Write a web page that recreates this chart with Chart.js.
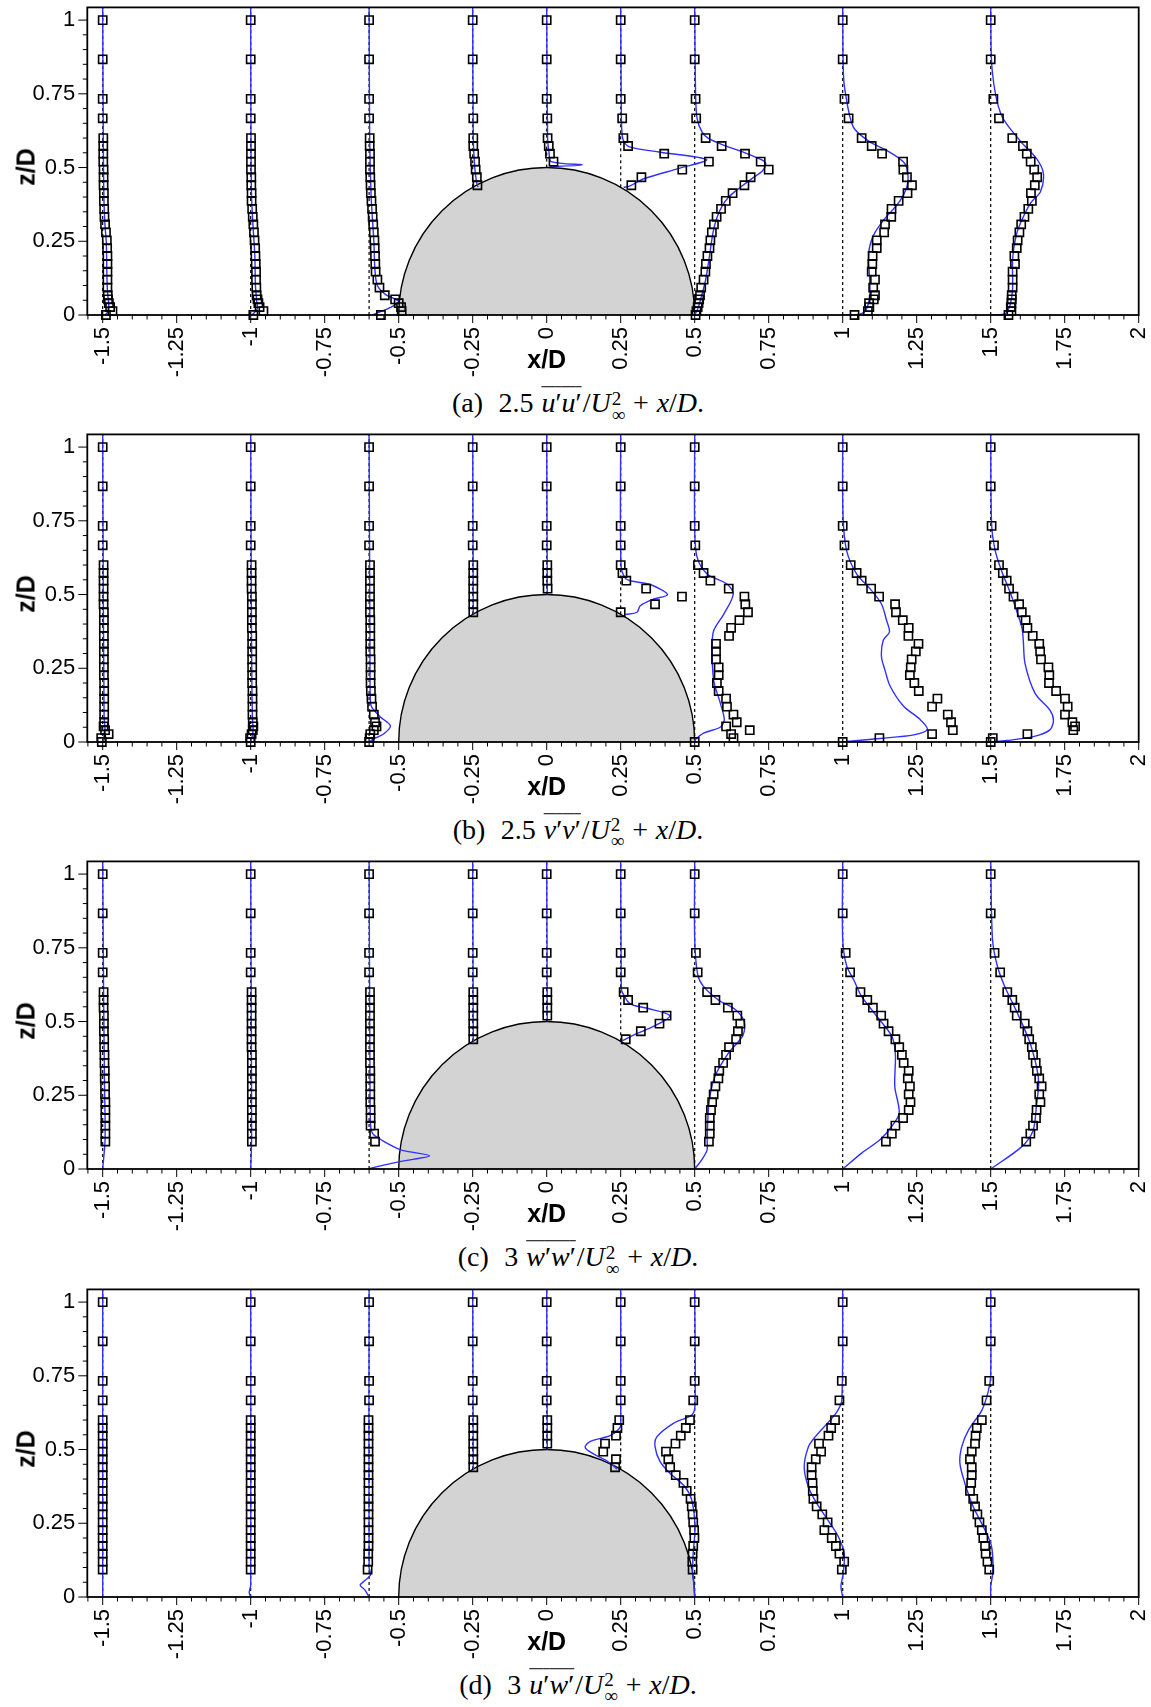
<!DOCTYPE html>
<html>
<head>
<meta charset="utf-8">
<script src="https://cdn.jsdelivr.net/npm/chart.js@4.4.1/dist/chart.umd.min.js"></script>
<style>
body { margin: 0; background: #fff; }
#page { position: relative; width: 1151px; height: 1707px; overflow: hidden; background: #fff; }
.panel { position: absolute; left: 0; width: 1151px; height: 380px; }
.panel canvas { position: absolute; left: 0; top: 0; }
.ztitle { position: absolute; left: 26px; top: 167px; font: bold 25px "Liberation Sans", Arial, sans-serif;
  transform: translate(-50%, -50%) rotate(-90deg); white-space: nowrap; }
.xtitle { position: absolute; left: 546.7px; top: 359px; font: bold 25px "Liberation Sans", Arial, sans-serif;
  transform: translate(-50%, -50%); white-space: nowrap; }
.caption { position: absolute; left: 0; width: 1156px; top: 405px; text-align: center;
  font: 28px "Liberation Serif", "DejaVu Serif", serif; transform: translateY(-50%); white-space: nowrap; }
.ol { text-decoration: overline; text-decoration-thickness: 1.3px; padding: 0 1px; }
.ss { display: inline-block; vertical-align: -0.45em; font-size: 19px; line-height: 16px; text-align: left; margin-left: 1px; }
.ss span { display: block; }
.op { margin: 0 0.28em; }
.lab { margin-right: 0.55em; }
</style>
</head>
<body>
<div id="page"></div>
<script>
// measurement stations (x/D) and hill surface height under each one
const stations = [-1.5, -1, -0.6, -0.25, 0, 0.25, 0.5, 1, 1.5];
const stationFloor = [0, 0, 0, 0.433, 0.5, 0.433, 0, 0, 0];
const hillRadius = 0.5;

// heights of the measured points (z/D), top to bottom
const zExp = [1, 0.867, 0.733, 0.667, 0.6, 0.573, 0.547, 0.52, 0.493, 0.467, 0.44, 0.413, 0.387, 0.36,
  0.333, 0.307, 0.28, 0.253, 0.227, 0.2, 0.173, 0.147, 0.12, 0.093, 0.067, 0.053, 0.04, 0.027, 0.013, 0];

const xTickVals = [-1.5, -1.25, -1, -0.75, -0.5, -0.25, 0, 0.25, 0.5, 0.75, 1, 1.25, 1.5, 1.75, 2];
const yTickVals = [0, 0.25, 0.5, 0.75, 1];
const xMin = -1.552, xMax = 2, yMax = 1.043;

// (a) 2.5 u'u' : measured offsets from each station, following zExp
const uuExp = [
  [0,0,0,0,0.002,0.002,0.002,0.002,0.003,0.003,0.003,0.004,0.004,0.005,0.006,0.008,0.011,0.014,0.015,0.016,0.016,0.016,0.016,0.016,0.017,0.018,0.021,0.025,0.033,0.011],
  [0,0,0,0,0.001,0.001,0.001,0.001,0.001,0.002,0.002,0.003,0.003,0.005,0.007,0.009,0.011,0.013,0.015,0.016,0.017,0.018,0.018,0.019,0.02,0.023,0.026,0.03,0.043,0.009],
  [0,0,0,0,0.002,0.002,0.003,0.003,0.003,0.004,0.005,0.006,0.008,0.01,0.012,0.014,0.016,0.018,0.019,0.02,0.021,0.022,0.028,0.035,0.053,0.088,0.1,0.108,0.11,0.04],
  [0,0,0,0.002,0.002,0.002,0.005,0.008,0.01,0.014,0.016],
  [0,0,0,0.002,0.003,0.007,0.011,0.023],
  [0,0,0,0.005,0.009,0.025,0.147,0.298,0.208,0.07,0.036],
  [0,0,0.003,0.005,0.037,0.091,0.17,0.223,0.25,0.189,0.168,0.128,0.105,0.089,0.074,0.065,0.058,0.053,0.05,0.043,0.038,0.036,0.03,0.022,0.018,0.015,0.013,0.01,0.006,0.003],
  [0,0,0.006,0.02,0.064,0.098,0.133,0.204,0.205,0.217,0.234,0.219,0.189,0.165,0.164,0.143,0.14,0.115,0.115,0.101,0.1,0.098,0.109,0.103,0.109,0.105,0.089,0.09,0.085,0.04],
  [0,0,0.009,0.028,0.073,0.109,0.122,0.135,0.147,0.157,0.149,0.136,0.139,0.127,0.114,0.103,0.097,0.091,0.088,0.08,0.082,0.074,0.074,0.074,0.071,0.071,0.07,0.068,0.07,0.06]
];
// LES profiles as [z, offset] pairs
const uuLes = [
  [[1.043,0],[0.6,0.002],[0.4,0.004],[0.3,0.008],[0.25,0.012],[0.15,0.014],[0.08,0.016],[0.04,0.02],[0.015,0.02],[0,0.008]],
  [[1.043,0],[0.6,0.001],[0.4,0.003],[0.3,0.008],[0.2,0.014],[0.1,0.016],[0.05,0.02],[0.02,0.022],[0,0.004]],
  [[1.043,0],[0.6,0.002],[0.4,0.007],[0.25,0.016],[0.15,0.02],[0.1,0.028],[0.07,0.055],[0.045,0.1],[0.025,0.07],[0.01,0.035],[0,0.01]],
  [[1.043,0],[0.6,0.002],[0.5,0.007],[0.45,0.013],[0.434,0.018]],
  [[1.043,0],[0.6,0.003],[0.55,0.008],[0.52,0.015],[0.509,0.12],[0.503,0.01]],
  [[1.043,0],[0.7,0.002],[0.62,0.004],[0.59,0.01],[0.57,0.03],[0.552,0.134],[0.527,0.29],[0.498,0.2],[0.462,0.078],[0.437,0.03],[0.433,0.01]],
  [[1.043,0],[0.75,0.003],[0.667,0.008],[0.62,0.025],[0.6,0.045],[0.575,0.1],[0.55,0.17],[0.527,0.225],[0.515,0.24],[0.49,0.23],[0.46,0.19],[0.43,0.15],[0.4,0.115],[0.37,0.093],[0.33,0.075],[0.28,0.062],[0.2,0.05],[0.12,0.037],[0.06,0.022],[0.02,0.01],[0,0]],
  [[1.043,0],[0.83,0.002],[0.76,0.008],[0.637,0.036],[0.587,0.092],[0.558,0.149],[0.513,0.21],[0.45,0.22],[0.388,0.194],[0.32,0.137],[0.27,0.104],[0.21,0.088],[0.075,0.092],[0.02,0.08],[0.003,0.058],[0,0]],
  [[1.043,0],[0.83,0.005],[0.68,0.035],[0.59,0.1],[0.53,0.155],[0.48,0.178],[0.418,0.168],[0.38,0.135],[0.31,0.1],[0.265,0.085],[0.19,0.074],[0.09,0.074],[0.035,0.066],[0.005,0.05],[0,0]]
];

// (b) 2.5 v'v'
const vvExp = [
  [0,0,0,0,0.003,0.003,0.003,0.003,0.003,0.003,0.004,0.004,0.004,0.004,0.004,0.004,0.004,0.004,0.004,0.005,0.005,0.005,0.005,0.005,0.005,0.003,0.008,0.02,-0.005,-0.003],
  [0,0,0,0,0.003,0.003,0.003,0.003,0.004,0.004,0.004,0.004,0.004,0.005,0.005,0.005,0.005,0.005,0.005,0.005,0.006,0.006,0.006,0.006,0.007,0.009,0.007,0.003,-0.002,0],
  [0,0,0,0,0.003,0.003,0.003,0.003,0.003,0.003,0.003,0.004,0.004,0.004,0.004,0.004,0.005,0.005,0.005,0.005,0.006,0.008,0.01,0.016,0.02,0.025,0.016,0.004,0.002,0],
  [0,0,0,0,0.002,0.002,0.002,0.002,0.002,0.002,0.002],
  [0,0,0,0,0.002,0.002,0.002,0.003],
  [0,0,0,0,0,0.006,0.019,0.086,0.207,0.116,0],
  [0,0,0,0.002,0.011,0.03,0.053,0.115,0.168,0.171,0.18,0.151,0.123,0.116,0.072,0.072,0.072,0.081,0.081,0.075,0.081,0.106,0.109,0.131,0.142,0.106,0.186,0.123,0.131,0],
  [0,0,0,0.006,0.027,0.047,0.064,0.096,0.123,0.177,0.18,0.203,0.223,0.222,0.256,0.247,0.233,0.23,0.227,0.242,0.257,0.32,0.302,0.355,0.366,null,0.372,0.302,0.124,0],
  [0,0,0.003,0.011,0.028,0.041,0.054,0.062,0.077,0.096,0.105,0.118,0.124,0.142,0.164,0.167,0.17,0.195,0.198,0.197,0.221,0.251,0.26,0.251,0.276,0.285,0.279,0.124,0.007,0]
];
const vvLes = [
  [[1.043,0],[0.5,0.002],[0.2,0.004],[0.08,0.005],[0.04,0.008],[0.015,0.005],[0,0]],
  [[1.043,0],[0.5,0.002],[0.2,0.004],[0.08,0.006],[0.04,0.008],[0.015,0.004],[0,0]],
  [[1.043,0],[0.3,0.003],[0.15,0.004],[0.12,0.008],[0.085,0.038],[0.055,0.072],[0.028,0.05],[0.013,0.02],[0,0]],
  [[1.043,0],[0.434,0.002]],
  [[1.043,0],[0.5,0.002]],
  [[1.043,0],[0.6,0.001],[0.555,0.016],[0.545,0.04],[0.534,0.1],[0.5,0.158],[0.484,0.11],[0.462,0.066],[0.44,0.055],[0.432,0.016]],
  [[1.043,0],[0.72,0],[0.627,0.008],[0.57,0.042],[0.535,0.11],[0.5,0.13],[0.433,0.098],[0.377,0.064],[0.32,0.059],[0.21,0.064],[0.13,0.087],[0.075,0.1],[0.05,0.086],[0.03,0.03],[0.006,0],[0,0]],
  [[1.043,0],[0.77,0.001],[0.65,0.013],[0.57,0.047],[0.52,0.092],[0.468,0.131],[0.413,0.148],[0.373,0.158],[0.345,0.137],[0.289,0.131],[0.243,0.143],[0.19,0.16],[0.122,0.205],[0.077,0.261],[0.043,0.286],[0.024,0.24],[0.012,0.126],[0.002,0.014],[0,0]],
  [[1.043,0],[0.74,0.003],[0.65,0.015],[0.58,0.037],[0.493,0.071],[0.39,0.105],[0.345,0.11],[0.266,0.116],[0.165,0.15],[0.108,0.2],[0.075,0.212],[0.041,0.2],[0.018,0.144],[0.005,0.054],[0,0]]
];

// (c) 3 w'w'
const wwExp = [
  [0,0,0,0,0.003,0.003,0.003,0.004,0.004,0.004,0.005,0.005,0.006,0.006,0.007,0.007,0.008,0.008,0.009,0.009,0.009,0.009,0.009,0.009],
  [0,0,0,0,0.003,0.003,0.003,0.003,0.003,0.003,0.003,0.003,0.004,0.004,0.004,0.004,0.004,0.004,0.004,0.004,0.004,0.004,0.004,0.004],
  [0,0,0,0,0.003,0.003,0.003,0.003,0.003,0.003,0.003,0.003,0.003,0.003,0.004,0.004,0.004,0.004,0.004,0.005,0.005,0.005,0.017,0.02],
  [0,0,0,0,0.002,0.002,0.002,0.002,0.002,0.002,0.002],
  [0,0,0,0,0.002,0.002,0.002,0.002],
  [0,0,0,0,0.01,0.025,0.076,0.155,0.131,0.068,0.017],
  [0,0,0.004,0.01,0.042,0.07,0.112,0.144,0.154,0.146,0.14,0.116,0.106,0.096,0.083,0.08,0.07,0.064,0.059,0.055,0.051,0.051,0.051,0.048],
  [0,0,0.01,0.025,0.06,0.083,0.102,0.13,0.138,0.155,0.178,0.191,0.2,0.206,0.223,0.22,0.227,0.223,0.229,0.223,0.204,0.178,0.166,0.146],
  [0,0,0.013,0.032,0.056,0.073,0.081,0.088,0.115,0.124,0.13,0.139,0.143,0.152,0.156,0.164,0.172,0.164,0.168,0.155,0.153,0.143,0.134,0.12]
];
const wwLes = [
  [[1.043,0],[0.6,0.003],[0.3,0.006],[0.1,0.008],[0,0]],
  [[1.043,0],[0.5,0.002],[0.1,0.003],[0,0]],
  [[1.043,0],[0.3,0.003],[0.15,0.005],[0.12,0.012],[0.1,0.039],[0.065,0.107],[0.045,0.204],[0.026,0.107],[0.003,0.006],[0,0]],
  [[1.043,0],[0.434,0.002]],
  [[1.043,0],[0.5,0.002]],
  [[1.043,0],[0.62,0.002],[0.6,0.005],[0.56,0.032],[0.545,0.09],[0.52,0.166],[0.485,0.114],[0.457,0.05],[0.435,0.006]],
  [[1.043,0],[0.78,0],[0.66,0.01],[0.62,0.029],[0.573,0.08],[0.54,0.138],[0.5,0.167],[0.453,0.163],[0.39,0.112],[0.31,0.067],[0.222,0.048],[0.098,0.042],[0.065,0.042],[0.03,0.023],[0,0]],
  [[1.043,0],[0.78,0],[0.69,0.013],[0.64,0.038],[0.585,0.064],[0.518,0.115],[0.45,0.166],[0.39,0.178],[0.28,0.176],[0.19,0.191],[0.145,0.166],[0.1,0.127],[0.054,0.064],[0,0]],
  [[1.043,0],[0.78,0.006],[0.69,0.022],[0.62,0.047],[0.54,0.085],[0.436,0.13],[0.346,0.155],[0.29,0.162],[0.22,0.155],[0.13,0.143],[0.075,0.104],[0,0]]
];

// (d) 3 u'w'
const uwExp = [
  [0,0,0,0,0,0,0,0,0,0,0,0,0,0,0,0,0,0,0,0,0,0,0,0],
  [0,0,0,0,0,0,0,0,0,0,0,0,0,0,0,0,0,0,0,0,0,0,0,0],
  [0,0,0,0,-0.002,-0.002,-0.002,-0.002,-0.002,-0.002,-0.002,-0.002,-0.002,-0.002,-0.002,-0.002,-0.002,-0.002,-0.002,-0.002,-0.002,-0.003,-0.003,-0.005],
  [0,0,0,0,0.002,0.002,0.002,0.002,0.002,0.002,0.002],
  [0,0,0,0,0.002,0.002,0.002,0.002],
  [0,0,0,0,-0.005,-0.011,-0.016,-0.053,-0.059,-0.016,-0.019],
  [0,0,0,-0.005,-0.016,-0.03,-0.047,-0.065,-0.097,-0.089,-0.083,-0.064,-0.038,-0.027,-0.014,-0.01,-0.007,-0.005,-0.002,-0.001,-0.005,-0.007,-0.008,-0.007],
  [0,0,-0.003,-0.011,-0.026,-0.039,-0.048,-0.08,-0.073,-0.091,-0.105,-0.105,-0.102,-0.101,-0.099,-0.088,-0.069,-0.051,-0.062,-0.037,-0.023,-0.011,0.005,-0.003],
  [0,0,-0.005,-0.014,-0.03,-0.047,-0.051,-0.053,-0.064,-0.07,-0.064,-0.064,-0.066,-0.07,-0.059,-0.053,-0.045,-0.038,-0.03,-0.025,-0.019,-0.017,-0.011,-0.005]
];
const uwLes = [
  [[1.043,0],[0,0]],
  [[1.043,0],[0.04,0],[0.015,-0.005],[0,0]],
  [[1.043,0],[0.1,0],[0.075,0.005],[0.055,-0.015],[0.04,-0.03],[0.025,-0.015],[0,0]],
  [[1.043,0],[0.434,0.002]],
  [[1.043,0],[0.5,0.002]],
  [[1.043,0],[0.6,0],[0.575,-0.002],[0.547,-0.036],[0.527,-0.104],[0.507,-0.12],[0.485,-0.092],[0.462,-0.047],[0.44,-0.019],[0.433,-0.013]],
  [[1.043,0],[0.65,0.001],[0.617,-0.01],[0.589,-0.072],[0.543,-0.128],[0.51,-0.134],[0.459,-0.117],[0.419,-0.083],[0.374,-0.033],[0.329,-0.01],[0.239,0.001],[0.149,-0.005],[0.081,-0.007],[0.036,-0.002],[0,0]],
  [[1.043,0],[0.667,-0.003],[0.627,-0.02],[0.587,-0.054],[0.543,-0.093],[0.509,-0.116],[0.441,-0.13],[0.374,-0.116],[0.318,-0.088],[0.25,-0.043],[0.205,-0.015],[0.149,0.005],[0.081,0.002],[0.036,-0.006],[0,0]],
  [[1.043,0],[0.75,0],[0.698,-0.008],[0.633,-0.03],[0.566,-0.075],[0.509,-0.098],[0.453,-0.104],[0.385,-0.087],[0.306,-0.059],[0.239,-0.025],[0.182,0],[0.137,0.007],[0.081,0.007],[0.036,0],[0,0]]
];

const tail = '/<i>U</i><span class="ss"><span>2</span><span>∞</span></span><span class="op">+</span><i>x</i>/<i>D</i>.';
const panels = [
  { top: 0, exp: uuExp, les: uuLes, caption: '<span class="lab">(a)</span>2.5 <span class="ol"><i>u</i>′<i>u</i>′</span>' + tail },
  { top: 426.7, exp: vvExp, les: vvLes, caption: '<span class="lab">(b)</span>2.5 <span class="ol"><i>v</i>′<i>v</i>′</span>' + tail },
  { top: 854.3, exp: wwExp, les: wwLes, caption: '<span class="lab">(c)</span>3 <span class="ol"><i>w</i>′<i>w</i>′</span>' + tail },
  { top: 1281.8, exp: uwExp, les: uwLes, caption: '<span class="lab">(d)</span>3 <span class="ol"><i>u</i>′<i>w</i>′</span>' + tail }
];

// hill, frame and tick marks drawn with the chart's own scales
const framePlugin = {
  id: 'frame',
  beforeDatasetsDraw(chart) {
    const { ctx, chartArea: a, scales: { x, y } } = chart;
    const cx = x.getPixelForValue(0), cy = y.getPixelForValue(0);
    const rx = x.getPixelForValue(hillRadius) - cx;
    const ry = cy - y.getPixelForValue(hillRadius);
    ctx.save();
    ctx.beginPath();
    ctx.rect(a.left, a.top, a.width, a.height);
    ctx.clip();
    ctx.beginPath();
    ctx.ellipse(cx, cy, rx, ry, 0, Math.PI, 2 * Math.PI);
    ctx.closePath();
    ctx.fillStyle = '#d3d3d3';
    ctx.fill();
    ctx.beginPath();
    ctx.ellipse(cx, cy, rx, ry, 0, Math.PI, 2 * Math.PI);
    ctx.strokeStyle = '#000';
    ctx.lineWidth = 1.4;
    ctx.stroke();
    ctx.restore();
  },
  afterDraw(chart) {
    const { ctx, chartArea: a, scales: { x, y } } = chart;
    ctx.save();
    ctx.strokeStyle = '#000';
    ctx.lineWidth = 1;
    ctx.beginPath();
    for (let k = Math.ceil(x.min * 20); k <= Math.floor(x.max * 20); k++) {
      const px = x.getPixelForValue(k / 20);
      const len = k % 5 === 0 ? 8 : 4.5;
      ctx.moveTo(px, a.bottom);
      ctx.lineTo(px, a.bottom + len);
    }
    for (let k = Math.ceil(y.min * 20); k <= Math.floor(y.max * 20); k++) {
      const py = y.getPixelForValue(k / 20);
      const len = k % 5 === 0 ? 9 : 4.5;
      ctx.moveTo(a.left, py);
      ctx.lineTo(a.left - len, py);
    }
    ctx.stroke();
    ctx.lineWidth = 1.8;
    ctx.strokeRect(a.left, a.top, a.width, a.height);
    ctx.restore();
  }
};

function fmt(v) {
  return String(Math.round(v * 100) / 100);
}

function buildDatasets(exp, les) {
  const sets = [];
  stations.forEach((st, i) => {
    const pts = [];
    exp[i].forEach((d, k) => {
      if (d !== null) pts.push({ x: st + d, y: zExp[k] });
    });
    sets.push({
      data: pts, showLine: false, pointStyle: 'rect', pointRadius: 5.8,
      borderColor: '#000', borderWidth: 1.6, backgroundColor: 'rgba(0,0,0,0)', order: 1, clip: false
    });
    sets.push({
      data: les[i].map(p => ({ x: st + p[1], y: p[0] })), showLine: true, pointRadius: 0,
      borderColor: '#3030ff', borderWidth: 1.4, tension: 0.3, order: 2
    });
    sets.push({
      data: [{ x: st, y: stationFloor[i] }, { x: st, y: yMax }], showLine: true, pointRadius: 0,
      borderColor: '#000', borderWidth: 1.2, borderDash: [3, 3], order: 3
    });
  });
  return sets;
}

Chart.defaults.font.family = '"Liberation Sans", Arial, sans-serif';
Chart.defaults.color = '#000';

const page = document.getElementById('page');
panels.forEach(p => {
  const div = document.createElement('div');
  div.className = 'panel';
  div.style.top = p.top + 'px';
  div.innerHTML = '<canvas width="1151" height="380"></canvas>' +
    '<div class="ztitle">z/D</div><div class="xtitle">x/D</div>' +
    '<div class="caption">' + p.caption + '</div>';
  page.appendChild(div);

  new Chart(div.querySelector('canvas'), {
    type: 'scatter',
    data: { datasets: buildDatasets(p.exp, p.les) },
    options: {
      responsive: false,
      animation: false,
      events: [],
      layout: { padding: { left: 0, right: 12.3, top: 6.7, bottom: 0 } },
      plugins: { legend: { display: false }, tooltip: { enabled: false } },
      scales: {
        x: {
          type: 'linear', min: xMin, max: xMax,
          grid: { display: false, drawTicks: false },
          border: { display: false },
          ticks: { autoSkip: false, minRotation: 90, maxRotation: 90, padding: 12,
                   font: { size: 22 }, color: '#000', callback: v => fmt(v) },
          afterBuildTicks: s => { s.ticks = xTickVals.map(v => ({ value: v })); },
          afterFit: s => { s.height = 65; s.paddingLeft = 0; s.paddingRight = 0; }
        },
        y: {
          type: 'linear', min: 0, max: yMax,
          grid: { display: false, drawTicks: false },
          border: { display: false },
          ticks: { padding: 12, font: { size: 22 }, color: '#000', callback: v => fmt(v) },
          afterBuildTicks: s => { s.ticks = yTickVals.map(v => ({ value: v })); },
          afterFit: s => { s.width = 87.3; s.paddingTop = 0; s.paddingBottom = 0; }
        }
      }
    },
    plugins: [framePlugin]
  });
});
</script>
</body>
</html>
